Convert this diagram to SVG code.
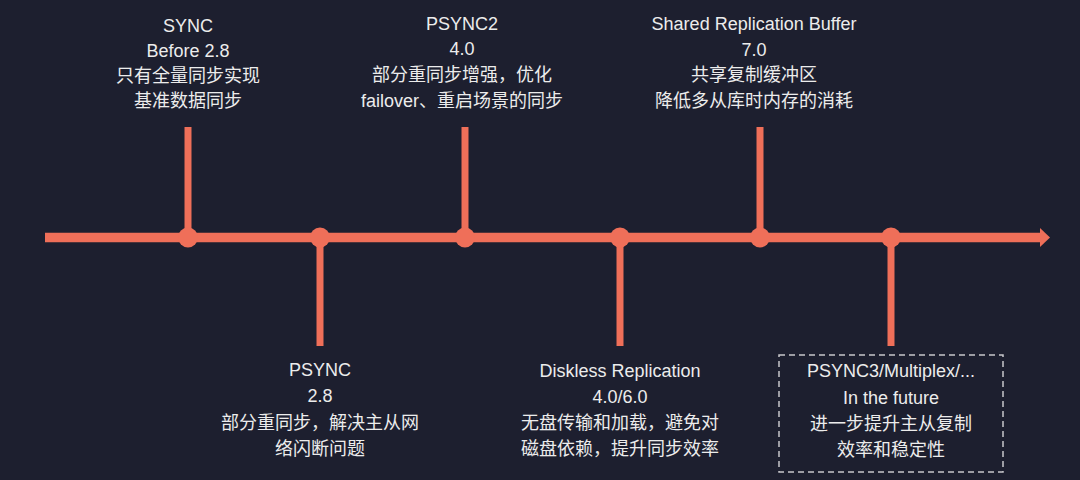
<svg xmlns="http://www.w3.org/2000/svg" width="1080" height="480" viewBox="0 0 1080 480">
<style>
.t{font-family:"Liberation Sans","Noto Sans CJK SC",sans-serif;font-size:18px;fill:#ececec;text-anchor:middle}
.ln{stroke:#ef6f59;stroke-width:7;fill:none}
.dot{fill:#ef6f59}
</style>
<rect width="1080" height="480" fill="#1d1f2f"/>
<g id="connectors">
<path d="M45 237.5H1041" stroke="#ef6f59" stroke-width="9.5" fill="none"/>
<polygon points="1040,228 1050,237.5 1040,247" fill="#ef6f59"/>
<line class="ln" x1="188" y1="127" x2="188" y2="237"/>
<line class="ln" x1="320" y1="238" x2="320" y2="346"/>
<line class="ln" x1="465" y1="127" x2="465" y2="237"/>
<line class="ln" x1="620" y1="238" x2="620" y2="346"/>
<line class="ln" x1="760" y1="127" x2="760" y2="237"/>
<line class="ln" x1="891" y1="238" x2="891" y2="346"/>
</g>
<g id="n1">
<circle class="dot" cx="188" cy="237.5" r="10"/>
<text class="t" x="188" y="32">SYNC</text>
<text class="t" x="188" y="57">Before 2.8</text>
<text class="t" x="188" y="82">只有全量同步实现</text>
<text class="t" x="188" y="107">基准数据同步</text>
</g>
<g id="n2">
<circle class="dot" cx="320" cy="237.5" r="10"/>
<text class="t" x="320" y="376">PSYNC</text>
<text class="t" x="320" y="402">2.8</text>
<text class="t" x="320" y="429">部分重同步，解决主从网</text>
<text class="t" x="320" y="455">络闪断问题</text>
</g>
<g id="n3">
<circle class="dot" cx="465" cy="237.5" r="10"/>
<text class="t" x="462" y="30">PSYNC2</text>
<text class="t" x="462" y="55">4.0</text>
<text class="t" x="462" y="81">部分重同步增强，优化</text>
<text class="t" x="462" y="107">failover、重启场景的同步</text>
</g>
<g id="n4">
<circle class="dot" cx="620" cy="237.5" r="10"/>
<text class="t" x="620" y="377">Diskless Replication</text>
<text class="t" x="620" y="403">4.0/6.0</text>
<text class="t" x="620" y="429">无盘传输和加载，避免对</text>
<text class="t" x="620" y="455">磁盘依赖，提升同步效率</text>
</g>
<g id="n5">
<circle class="dot" cx="760" cy="237.5" r="10"/>
<text class="t" x="754" y="30">Shared Replication Buffer</text>
<text class="t" x="754" y="56">7.0</text>
<text class="t" x="754" y="81">共享复制缓冲区</text>
<text class="t" x="754" y="107">降低多从库时内存的消耗</text>
</g>
<g id="n6">
<circle class="dot" cx="891" cy="237.5" r="10"/>
<rect x="779" y="355" width="224" height="117" fill="none" stroke="#c8c8cc" stroke-width="1.5" stroke-dasharray="6 4"/>
<text class="t" x="891" y="377">PSYNC3/Multiplex/...</text>
<text class="t" x="891" y="404">In the future</text>
<text class="t" x="891" y="430">进一步提升主从复制</text>
<text class="t" x="891" y="456">效率和稳定性</text>
</g>
</svg>
